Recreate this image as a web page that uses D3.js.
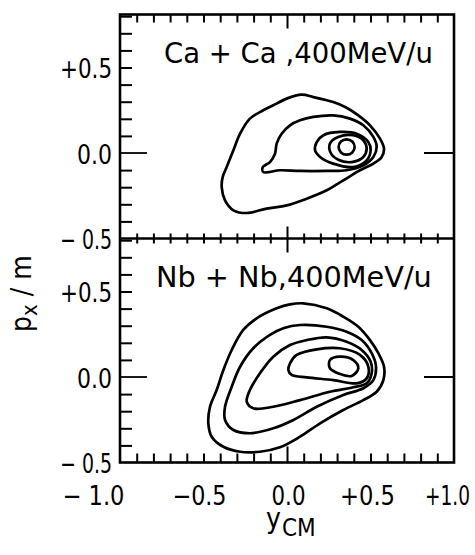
<!DOCTYPE html>
<html><head><meta charset="utf-8">
<script src="https://cdn.jsdelivr.net/npm/d3@7"></script>
<style>
html,body{margin:0;padding:0;background:#fff;}
svg{display:block;}
text{font-family:"DejaVu Sans Condensed","DejaVu Sans","Liberation Sans Narrow",sans-serif;fill:#000;}
</style></head>
<body><div id="chart"></div>
<script>
// ---- data (data units: x = y_CM, y = p_x/m) ----
const xLabelValues = [-1.0, -0.5, 0.0, 0.5, 1.0];
const xLabelTexts = ["\u2212 1.0", "\u22120.5", "0.0", "+0.5", "+1.0"];
const yLabelValues = [-0.5, 0.0, 0.5];
const yLabelTexts = ["\u2212 0.5", "0.0", "+0.5"];
const xMinorTicks = d3.range(-9, 10).map(i => i / 10);
const yMinorTicks = d3.range(-4, 9).map(i => i / 10);
const panelTitles = ["Ca + Ca ,400MeV/u", "Nb + Nb,400MeV/u"];

// Ca + Ca contours (outer -> inner)
const caC1 = [[0.088,0.341],[0.158,0.327],[0.277,0.298],[0.357,0.265],[0.427,0.220],[0.497,0.162],[0.557,0.084],[0.581,0.026],[0.567,-0.023],[0.517,-0.062],[0.437,-0.101],[0.337,-0.160],[0.238,-0.218],[0.118,-0.267],[-0.002,-0.306],[-0.122,-0.325],[-0.241,-0.351],[-0.321,-0.335],[-0.371,-0.277],[-0.391,-0.199],[-0.385,-0.140],[-0.361,-0.082],[-0.321,0.016],[-0.281,0.113],[-0.222,0.201],[-0.142,0.250],[-0.082,0.279],[-0.002,0.318]];
const caC2 = [[0.158,0.211],[0.277,0.220],[0.377,0.201],[0.457,0.162],[0.517,0.094],[0.537,0.035],[0.517,-0.023],[0.457,-0.072],[0.357,-0.101],[0.238,-0.105],[0.078,-0.105],[-0.042,-0.101],[-0.142,-0.111],[-0.145,-0.082],[-0.102,-0.053],[-0.072,-0.004],[-0.062,0.055],[-0.032,0.113],[0.018,0.162],[0.078,0.191]];
const caC3 = [[0.178,0.064],[0.218,0.104],[0.317,0.123],[0.417,0.113],[0.487,0.064],[0.501,0.016],[0.477,-0.043],[0.397,-0.082],[0.277,-0.062],[0.198,-0.023],[0.168,0.016]];
const caC4 = [[0.257,0.055],[0.307,0.094],[0.397,0.104],[0.457,0.074],[0.477,0.026],[0.457,-0.023],[0.387,-0.053],[0.307,-0.039],[0.262,0.0]];
const caC5 = [[0.405,0.035],[0.391,0.067],[0.357,0.080],[0.323,0.067],[0.309,0.035],[0.323,0.003],[0.357,-0.010],[0.391,0.003]];

// Nb + Nb contours (outer -> inner)
const nbC1 = [[0.098,0.431],[0.238,0.402],[0.337,0.353],[0.427,0.294],[0.497,0.216],[0.547,0.139],[0.581,0.060],[0.577,-0.018],[0.537,-0.086],[0.457,-0.135],[0.337,-0.193],[0.198,-0.271],[0.078,-0.349],[-0.042,-0.411],[-0.162,-0.437],[-0.281,-0.437],[-0.381,-0.408],[-0.451,-0.349],[-0.471,-0.271],[-0.461,-0.174],[-0.421,-0.076],[-0.381,0.041],[-0.331,0.158],[-0.262,0.275],[-0.182,0.343],[-0.062,0.402],[0.018,0.425]];
const nbC2 = [[0.078,0.304],[0.238,0.294],[0.357,0.265],[0.447,0.216],[0.507,0.139],[0.533,0.060],[0.517,-0.018],[0.457,-0.066],[0.337,-0.105],[0.178,-0.174],[0.038,-0.251],[-0.082,-0.300],[-0.222,-0.329],[-0.321,-0.310],[-0.371,-0.251],[-0.371,-0.174],[-0.331,-0.057],[-0.281,0.060],[-0.202,0.168],[-0.102,0.246],[-0.022,0.285]];
const nbC3 = [[0.118,0.216],[0.238,0.232],[0.357,0.206],[0.447,0.158],[0.501,0.089],[0.507,0.022],[0.477,-0.037],[0.397,-0.060],[0.257,-0.086],[0.078,-0.135],[-0.082,-0.174],[-0.202,-0.183],[-0.241,-0.144],[-0.222,-0.076],[-0.162,0.022],[-0.082,0.119],[0.018,0.187]];
const nbC4 = [[0.018,0.080],[0.058,0.129],[0.178,0.162],[0.317,0.168],[0.437,0.129],[0.487,0.060],[0.477,-0.008],[0.417,-0.037],[0.277,-0.018],[0.118,-0.002],[0.028,0.012],[0.008,0.041]];
const nbC5 = [[0.257,0.099],[0.317,0.119],[0.397,0.099],[0.427,0.051],[0.387,0.006],[0.317,0.018],[0.257,0.051]];

const caContours = [caC1, caC2, caC3, caC4, caC5];
const nbContours = [nbC1, nbC2, nbC3, nbC4, nbC5];

// ---- layout ----
const W = 475, H = 555;
const L = 120, R = 454, T = 14.5, MID = 238.5, B = 462.5;
const FONT = '"DejaVu Sans Condensed","DejaVu Sans",sans-serif';
const svg = d3.select("#chart").append("svg").attr("width", W).attr("height", H);

const x = d3.scaleLinear().domain([-1, 1]).range([L, R]);
const yTop = d3.scaleLinear().domain([-0.5, 0.81]).range([MID, T]);
const yBot = d3.scaleLinear().domain([-0.5, 0.81]).range([B, MID]);

const line = (ys) => d3.line().x(d => x(d[0])).y(d => ys(d[1])).curve(d3.curveCatmullRomClosed.alpha(0.5));

const yLabelWidths = [52, 35, 52];
const xLabelWidths = [62, 54, 34, 55, 45];
const xLabelShift = [-27, -4.5, 1, -3.5, -7];

// squeeze a text horizontally to a target width (keeps its height)
function squeeze(sel, widthOf, tx, ty, anchor) {
  sel.each(function(d, i) {
    const t = d3.select(this);
    t.attr("x", 0).attr("y", 0).attr("dx", null).attr("dy", null).attr("text-anchor", anchor);
    const nat = this.getComputedTextLength();
    const s = widthOf(i) / nat;
    t.attr("transform", `translate(${tx(i)},${ty(i)}) scale(${s},1)`);
  });
}

function panel(ys, contours, title, titleY, titleX0, titleW) {
  const g = svg.append("g");
  g.selectAll("path.c").data(contours).join("path")
    .attr("class", "c")
    .attr("d", d => line(ys)(d))
    .attr("fill", "none").attr("stroke", "#000").attr("stroke-width", 2.7)
    .attr("stroke-linejoin", "round");
  g.append("g").attr("transform", `translate(${L},0)`)
    .call(d3.axisRight(ys).tickValues(yMinorTicks.filter(v => v !== 0)).tickSize(12).tickFormat(""))
    .call(a => a.select(".domain").remove())
    .selectAll("line").attr("stroke", "#000").attr("stroke-width", 2);
  g.append("line").attr("x1", L).attr("x2", L + 27).attr("y1", ys(0)).attr("y2", ys(0))
    .attr("stroke", "#000").attr("stroke-width", 1.8);
  g.append("line").attr("x1", R).attr("x2", R - 30).attr("y1", ys(0)).attr("y2", ys(0))
    .attr("stroke", "#000").attr("stroke-width", 2);
  g.append("g").attr("transform", `translate(${L - 8},0)`)
    .call(d3.axisLeft(ys).tickValues(yLabelValues).tickSize(0).tickPadding(0)
      .tickFormat((d, i) => yLabelTexts[i]))
    .call(a => a.select(".domain").remove())
    .selectAll("text").attr("font-size", 27).style("font-family", FONT)
    .call(s => squeeze(s, i => yLabelWidths[i], () => 0, () => 10, "end"));
  g.append("text")
    .attr("font-size", 29).text(title)
    .call(s => squeeze(s, () => titleW, () => titleX0, () => titleY, "start"));
}

panel(yTop, caContours, panelTitles[0], 63, 164, 269);
panel(yBot, nbContours, panelTitles[1], 287, 156, 276);

// top frame ticks (downward)
svg.append("g").attr("transform", `translate(0,${T})`)
  .call(d3.axisBottom(x).tickValues(xMinorTicks).tickSize(8).tickFormat(""))
  .call(a => a.select(".domain").remove())
  .selectAll("line").attr("stroke", "#000").attr("stroke-width", 2)
  .attr("y2", d => d === 0 ? 14 : 8);
// divider ticks (crossing)
svg.append("g").attr("transform", `translate(0,${MID - 5})`)
  .call(d3.axisBottom(x).tickValues(xMinorTicks).tickSize(10).tickFormat(""))
  .call(a => a.select(".domain").remove())
  .selectAll("line").attr("stroke", "#000").attr("stroke-width", 2)
  .attr("y1", d => d === 0 ? -7 : 0).attr("y2", d => d === 0 ? 19 : 10);
// bottom frame ticks (upward)
svg.append("g").attr("transform", `translate(0,${B})`)
  .call(d3.axisTop(x).tickValues(xMinorTicks).tickSize(9).tickFormat(""))
  .call(a => a.select(".domain").remove())
  .selectAll("line").attr("stroke", "#000").attr("stroke-width", 2)
  .attr("y2", d => d === 0 ? -16 : -9);

// frame
svg.append("rect").attr("x", L).attr("y", T).attr("width", R - L).attr("height", B - T)
  .attr("fill", "none").attr("stroke", "#000").attr("stroke-width", 2.6);
svg.append("line").attr("x1", L).attr("x2", R).attr("y1", MID).attr("y2", MID)
  .attr("stroke", "#000").attr("stroke-width", 2.6);

// x labels
svg.append("g").attr("transform", `translate(0,${B})`)
  .call(d3.axisBottom(x).tickValues(xLabelValues).tickSize(0).tickPadding(0)
    .tickFormat((d, i) => xLabelTexts[i]))
  .call(a => a.select(".domain").remove())
  .selectAll("text").attr("font-size", 27).style("font-family", FONT)
  .call(s => squeeze(s, i => xLabelWidths[i], i => xLabelShift[i], () => 42, "middle"));

// x axis title y_CM
const xt = svg.append("text").attr("x", 266).attr("y", 528).attr("font-size", 28);
xt.append("tspan").text("y");
xt.append("tspan").attr("dy", 8).attr("font-size", 24).attr("dx", 1).text("CM");

// y axis title p_x / m
const yt = svg.append("text").attr("transform", "translate(31,332) rotate(-90)").attr("font-size", 28);
yt.append("tspan").text("p");
yt.append("tspan").attr("dy", 6).attr("font-size", 22).text("x");
yt.append("tspan").attr("dy", -6).text(" / m");
</script></body></html>
